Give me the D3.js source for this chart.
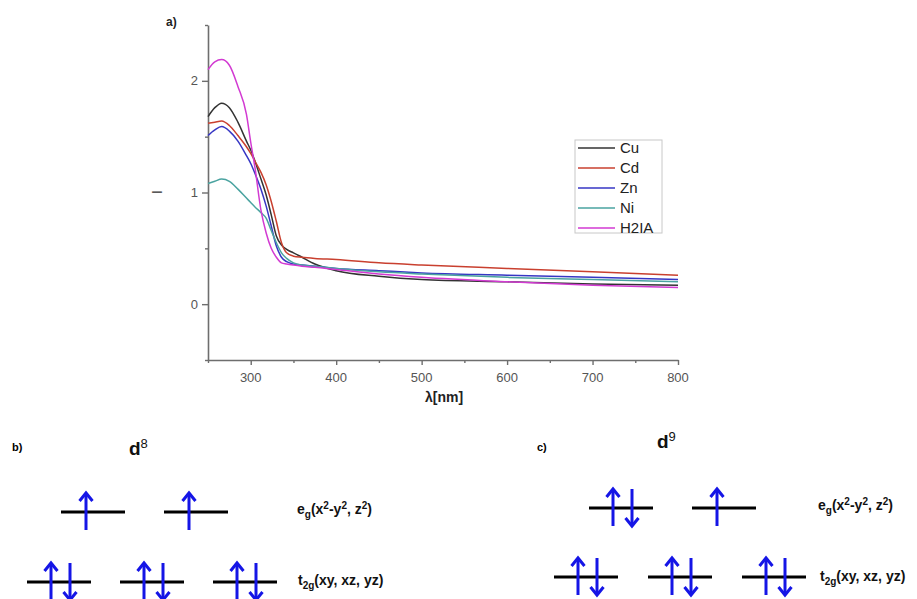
<!DOCTYPE html>
<html><head><meta charset="utf-8">
<script src="https://cdn.jsdelivr.net/npm/d3@7"></script>
<style>
html,body{margin:0;padding:0;background:#fff;}
svg{display:block;font-family:"Liberation Sans",Arial,sans-serif;}
</style></head>
<body>
<svg id="chart" width="917" height="599"></svg>
<script>
// ---------- data ----------
const wavelengths = [250, 258, 266, 275, 285, 295, 300, 305, 312, 318, 324, 330, 336, 342, 350, 360, 375, 400, 450, 500, 600, 700, 800];
const seriesNames = ["Cu", "Cd", "Zn", "Ni", "H2IA"];
const cuValues   = [1.68, 1.76, 1.80, 1.76, 1.63, 1.46, 1.38, 1.28, 1.12, 0.98, 0.80, 0.61, 0.53, 0.49, 0.46, 0.42, 0.36, 0.30, 0.25, 0.22, 0.20, 0.18, 0.17];
const cdValues   = [1.62, 1.63, 1.64, 1.60, 1.51, 1.41, 1.35, 1.28, 1.18, 1.07, 0.92, 0.74, 0.55, 0.46, 0.43, 0.42, 0.41, 0.40, 0.37, 0.35, 0.32, 0.29, 0.26];
const znValues   = [1.51, 1.56, 1.59, 1.55, 1.46, 1.33, 1.26, 1.17, 1.03, 0.88, 0.70, 0.52, 0.42, 0.38, 0.36, 0.35, 0.34, 0.32, 0.30, 0.28, 0.26, 0.24, 0.22];
const niValues   = [1.08, 1.10, 1.12, 1.10, 1.03, 0.95, 0.91, 0.87, 0.82, 0.77, 0.66, 0.55, 0.46, 0.41, 0.37, 0.35, 0.34, 0.32, 0.29, 0.27, 0.24, 0.22, 0.20];
const h2iaValues = [2.10, 2.17, 2.19, 2.14, 1.95, 1.70, 1.45, 1.22, 0.84, 0.64, 0.50, 0.42, 0.37, 0.36, 0.35, 0.34, 0.33, 0.31, 0.27, 0.24, 0.20, 0.17, 0.15];
const seriesValues = [cuValues, cdValues, znValues, niValues, h2iaValues];
const seriesColors = ["#333333", "#c9402f", "#3636c4", "#4aa3a0", "#d23ad2"];
const xTicks = [300, 400, 500, 600, 700, 800];
const yTicks = [0, 1, 2];

// crystal-field diagrams: electrons per orbital
const d8Eg = [1, 1];
const d8T2g = [2, 2, 2];
const d9Eg = [2, 1];
const d9T2g = [2, 2, 2];

// ---------- chart ----------
const svg = d3.select("#chart");
const x = d3.scaleLinear().domain([250, 800]).range([208, 678]);
const y = d3.scaleLinear().domain([-0.5, 2.5]).range([360, 25]);
const axisColor = "#6e6e6e";

// y axis
const yAxisG = svg.append("g").attr("transform", `translate(${x(250)},0)`)
  .call(d3.axisLeft(y).tickValues(d3.range(-0.5, 2.51, 0.5))
    .tickSize(0).tickFormat(""));
yAxisG.selectAll(".tick line").remove();
yAxisG.select(".domain").attr("stroke", axisColor).attr("stroke-width", 1.6);
yAxisG.selectAll(".tick").append("line")
  .attr("x1", 0).attr("x2", d => Number.isInteger(d) ? -6 : -3)
  .attr("stroke", axisColor).attr("stroke-width", 1.4);
svg.append("g").selectAll("text").data(yTicks).join("text")
  .attr("x", x(250) - 10).attr("y", d => y(d)).attr("dy", "0.35em")
  .attr("text-anchor", "end").attr("font-size", 13).attr("fill", "#555").text(d => d);

// x axis
const xAxisG = svg.append("g").attr("transform", `translate(0,${y(-0.5)})`)
  .call(d3.axisBottom(x).tickValues(d3.range(250, 801, 50)).tickSize(0).tickFormat(""));
xAxisG.select(".domain").attr("stroke", axisColor).attr("stroke-width", 1.6);
xAxisG.selectAll(".tick").append("line")
  .attr("y1", 0).attr("y2", d => d % 100 === 0 ? 5 : 3)
  .attr("stroke", axisColor).attr("stroke-width", 1.4);
svg.append("g").selectAll("text").data(xTicks).join("text")
  .attr("x", d => x(d)).attr("y", y(-0.5) + 22)
  .attr("text-anchor", "middle").attr("font-size", 13).attr("fill", "#555").text(d => d);

// labels
svg.append("text").attr("x", 444).attr("y", 402).attr("text-anchor", "middle")
  .attr("font-size", 14).attr("font-weight", "bold").attr("fill", "#222").text("λ[nm]");
svg.append("text").attr("transform", "translate(162,192) rotate(-90)").attr("text-anchor", "middle")
  .attr("font-size", 14).attr("fill", "#333").text("I");
svg.append("text").attr("x", 166).attr("y", 26).attr("font-size", 12).attr("font-weight", "bold")
  .attr("fill", "#222").text("a)");

// lines
const line = d3.line().x((d, i) => x(wavelengths[i])).y(d => y(d)).curve(d3.curveMonotoneX);
svg.append("g").selectAll("path").data(seriesValues).join("path")
  .attr("d", d => line(d)).attr("fill", "none")
  .attr("stroke", (d, i) => seriesColors[i]).attr("stroke-width", 1.5);

// legend
const lg = svg.append("g");
lg.append("rect").attr("x", 575).attr("y", 140).attr("width", 87).attr("height", 93)
  .attr("fill", "#fff").attr("stroke", "#c8c8c8").attr("stroke-width", 1);
const legendY = d3.scalePoint().domain(seriesNames).range([148, 228]);
const items = lg.selectAll("g").data(seriesNames).join("g")
  .attr("transform", d => `translate(0,${legendY(d)})`);
items.append("line").attr("x1", 578).attr("x2", 615)
  .attr("stroke", (d, i) => seriesColors[i]).attr("stroke-width", 1.5);
items.append("text").attr("x", 620).attr("dy", "0.36em").attr("font-size", 15)
  .attr("fill", "#222").text(d => d);

// ---------- crystal field diagrams ----------
const blue = "#1515e6";
function drawOrbitals(g, electrons, cx0, cx1, ly, halfLen) {
  const sc = d3.scalePoint().domain(d3.range(electrons.length)).range([cx0, cx1]);
  const og = g.append("g").selectAll("g").data(electrons).join("g")
    .attr("transform", (d, i) => `translate(${sc(i)},${ly})`);
  og.append("line").attr("x1", -halfLen).attr("x2", halfLen)
    .attr("stroke", "#000").attr("stroke-width", 3);
  og.each(function(n) {
    const arrows = n === 2 ? [{dx: -8, up: true}, {dx: 11, up: false}] : [{dx: -7, up: true}];
    const a = d3.select(this).selectAll("g.e").data(arrows).join("g").attr("class", "e")
      .attr("transform", d => `translate(${d.dx},0)`);
    a.append("line").attr("y1", -19).attr("y2", 18)
      .attr("stroke", blue).attr("stroke-width", 3);
    a.append("path")
      .attr("d", d => d.up ? "M-6.5,-11L0,-19L6.5,-11" : "M-6.5,10L0,18L6.5,10")
      .attr("fill", "none").attr("stroke", blue).attr("stroke-width", 3)
      .attr("stroke-linejoin", "miter");
  });
}
function egLabel(g, lx, ly) {
  const t = g.append("text").attr("x", lx).attr("y", ly).attr("font-size", 14)
    .attr("font-weight", "bold").attr("fill", "#111");
  t.append("tspan").text("e");
  t.append("tspan").attr("dy", 4).attr("font-size", 10).text("g");
  t.append("tspan").attr("dy", -4).text("(x");
  t.append("tspan").attr("dy", -5).attr("font-size", 10).text("2");
  t.append("tspan").attr("dy", 5).text("-y");
  t.append("tspan").attr("dy", -5).attr("font-size", 10).text("2");
  t.append("tspan").attr("dy", 5).text(", z");
  t.append("tspan").attr("dy", -5).attr("font-size", 10).text("2");
  t.append("tspan").attr("dy", 5).text(")");
}
function t2gLabel(g, lx, ly) {
  const t = g.append("text").attr("x", lx).attr("y", ly).attr("font-size", 14)
    .attr("font-weight", "bold").attr("fill", "#111");
  t.append("tspan").text("t");
  t.append("tspan").attr("dy", 4).attr("font-size", 10).text("2g");
  t.append("tspan").attr("dy", -4).text("(xy, xz, yz)");
}
function dLabel(g, lx, ly, n) {
  const t = g.append("text").attr("x", lx).attr("y", ly).attr("font-size", 19)
    .attr("font-weight", "bold").attr("fill", "#111");
  t.append("tspan").text("d");
  t.append("tspan").attr("dy", -7).attr("font-size", 13).attr("font-weight", "normal").text(n);
}

const gb = svg.append("g");
gb.append("text").attr("x", 12).attr("y", 451).attr("font-size", 11).attr("font-weight", "bold").text("b)");
dLabel(gb, 129, 455, "8");
drawOrbitals(gb, d8Eg, 93, 196, 512, 32);
drawOrbitals(gb, d8T2g, 59, 245, 582, 32);
egLabel(gb, 297, 514);
t2gLabel(gb, 298, 585);

const gc = svg.append("g");
gc.append("text").attr("x", 537).attr("y", 451).attr("font-size", 11).attr("font-weight", "bold").text("c)");
dLabel(gc, 657, 448, "9");
drawOrbitals(gc, d9Eg, 621, 724, 508, 32);
drawOrbitals(gc, d9T2g, 586, 774, 577, 32);
egLabel(gc, 818, 510);
t2gLabel(gc, 820, 581);
</script>
</body></html>
